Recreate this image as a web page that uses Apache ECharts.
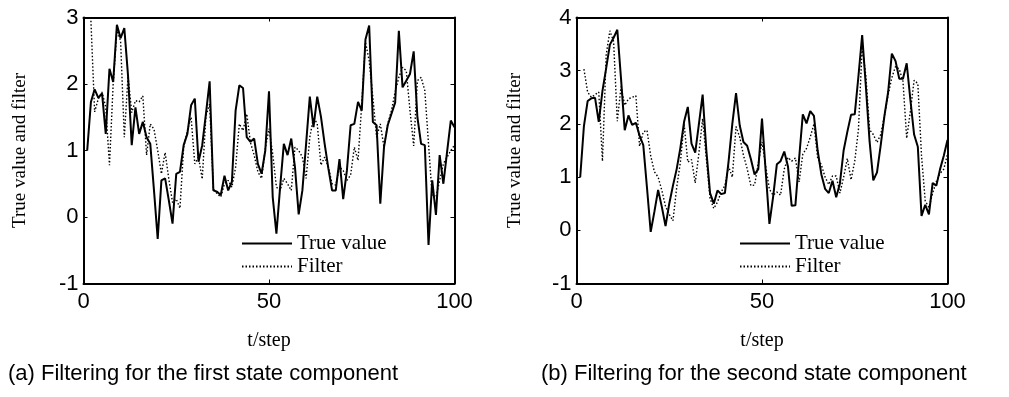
<!DOCTYPE html>
<html>
<head>
<meta charset="utf-8">
<script src="https://cdn.jsdelivr.net/npm/echarts@6/dist/echarts.min.js"></script>
<style>
  html, body { margin: 0; padding: 0; background: #fff; }
  #chart { width: 1009px; height: 397px; }
</style>
</head>
<body>
<div id="chart"></div>
<script>
// true value / filter for the first state component, t = 1..100 (filter starts at t = 2)
const trueA = [
  1.0, 1.73, 1.92, 1.79, 1.86, 1.25, 2.23, 2.03, 2.89, 2.69,
  2.84, 2.13, 1.08, 1.65, 1.25, 1.43, 1.2, 1.1, 0.4, -0.33,
  0.55, 0.58, 0.25, -0.1, 0.65, 0.68, 1.08, 1.25, 1.68, 1.78,
  0.83, 1.08, 1.55, 2.04, 0.4, 0.38, 0.33, 0.62, 0.4, 0.53,
  1.6, 1.98, 1.94, 1.2, 1.13, 1.18, 0.8, 0.65, 1.0, 1.89,
  0.3, -0.25, 0.45, 1.1, 0.93, 1.18, 0.75, 0.04, 0.4, 1.1,
  1.81, 1.35, 1.81, 1.51, 1.1, 0.73, 0.4, 0.4, 0.87, 0.27,
  0.7, 1.38, 1.4, 1.73, 1.6, 2.67, 2.88, 1.43, 1.38, 0.2,
  1.05, 1.38, 1.55, 1.72, 2.8, 1.95, 2.05, 2.15, 2.49, 1.5,
  1.1, 1.08, -0.42, 0.55, 0.03, 0.93, 0.5, 0.98, 1.45, 1.35
];
const filterA = [
  2.95, 1.58, 1.78, 1.88, 1.65, 0.78, 2.0, 2.8, 2.65, 1.2,
  2.12, 1.57, 1.75, 1.73, 1.82, 0.93, 1.4, 1.32, 1.0, 0.65,
  0.97, 0.57, 0.22, 0.27, 0.13, 1.05, 1.3, 1.5, 0.8, 0.9,
  0.57, 1.52, 1.7, 0.43, 0.35, 0.3, 0.5, 0.55, 0.45, 0.75,
  1.4, 1.3, 1.55, 1.12, 0.93, 0.68, 0.58, 1.03, 1.33, 0.95,
  0.45, 0.4, 0.58, 0.5, 0.4, 1.05, 1.0, 0.9, 0.58, 1.2,
  1.5, 1.4, 0.78, 0.9, 0.75, 0.5, 0.48, 0.75, 0.7, 0.55,
  0.63, 1.05, 0.85, 1.7, 2.63, 2.35, 1.8, 1.2, 1.4, 1.05,
  1.4, 1.6, 1.88, 2.1, 2.25, 2.2, 1.6, 1.07, 2.05, 2.1,
  1.9, 1.1, 0.3, 0.3, 0.55, 0.8, 0.9, 1.0, 1.08
];
// second state component
const trueB = [
  1.0, 1.96, 2.43, 2.48, 2.49, 2.04, 2.62, 3.05, 3.49, 3.62,
  3.77, 2.85, 1.88, 2.16, 1.98, 2.02, 1.78, 1.6, 0.8, -0.03,
  0.35, 0.76, 0.44, 0.08, 0.5, 0.84, 1.15, 1.55, 2.04, 2.32,
  1.63, 1.46, 2.0, 2.55, 1.5, 0.7, 0.5, 0.75, 0.68, 0.7,
  1.3, 2.0, 2.58, 1.97, 1.66, 1.59, 1.34, 1.05, 1.15, 2.1,
  1.1, 0.12, 0.63, 1.24, 1.3, 1.48, 1.2, 0.46, 0.47, 1.35,
  2.18, 2.01, 2.24, 2.15, 1.5, 1.05, 0.78, 0.7, 0.93, 0.62,
  0.88, 1.5, 1.85, 2.17, 2.18, 2.9, 3.67, 2.7, 1.67, 0.94,
  1.09, 1.6, 2.15, 2.6, 3.32, 3.18, 2.85, 2.85, 3.14, 2.45,
  1.8, 1.57, 0.27, 0.48, 0.3, 0.89, 0.84, 1.15, 1.4, 1.7
];
const filterB = [
  3.03, 2.6, 2.5, 2.55, 2.6, 1.3, 3.3, 3.75, 3.55, 2.05,
  2.7, 2.35, 2.47, 2.5, 2.53, 1.58, 1.85, 1.88, 1.4, 1.1,
  1.0, 0.75, 0.45, 0.3, 0.18, 0.8, 1.28, 2.0, 1.28, 1.33,
  0.89, 1.45, 2.1, 1.34, 0.6, 0.41, 0.53, 0.72, 0.84, 1.2,
  1.0, 1.95, 1.75, 1.41, 1.16, 0.84, 0.85, 1.26, 1.66, 1.2,
  0.77, 0.66, 0.72, 0.66, 1.15, 1.37, 1.3, 1.36, 0.91, 1.43,
  1.54, 1.75, 2.0, 1.36, 1.23, 1.0, 0.86, 1.02, 1.02, 0.7,
  1.0, 1.35, 0.95, 1.3, 1.9, 3.45, 2.9, 1.89, 1.8, 1.65,
  1.8, 2.15, 2.55, 2.87, 3.08, 3.03, 2.8, 1.73, 2.24, 2.82,
  2.76, 1.4, 0.55, 0.43, 0.7, 0.92, 1.07, 1.15, 1.43
];
const xTicks = [0, 50, 100];
const yRangeA = [-1, 3];
const yRangeB = [-1, 4];
const seriesNames = ['True value', 'Filter'];
const captions = ['(a) Filtering for the first state component', '(b) Filtering for the second state component'];

let chart = echarts.init(document.getElementById('chart'));

// pair step number with value, first step given
function toPairs(vals, firstStep) {
  return vals.map((v, i) => [firstStep + i, v]);
}

const sans = 'Liberation Sans, Arial, sans-serif';
const serif = 'Liberation Serif, Times New Roman, serif';

function xAx(grid, pos) {
  let ax = {
    gridIndex: grid, type: 'value', position: pos,
    min: xTicks[0], max: xTicks[xTicks.length - 1], interval: 50,
    axisLine: { onZero: false, lineStyle: { color: '#000', width: 2 } },
    axisTick: { inside: true, length: 4, lineStyle: { color: '#000', width: 1 } },
    axisLabel: { show: pos === 'bottom', color: '#000', fontSize: 22, fontFamily: sans, margin: 7 },
    splitLine: { show: false }
  };
  if (pos === 'bottom') {
    ax.name = 't/step';
    ax.nameLocation = 'middle';
    ax.nameGap = 47;
    ax.nameTextStyle = { color: '#000', fontSize: 20, fontFamily: serif };
  }
  return ax;
}

function yAx(grid, pos, range, gap) {
  let ax = {
    gridIndex: grid, type: 'value', position: pos,
    min: range[0], max: range[1], interval: 1,
    axisLine: { onZero: false, lineStyle: { color: '#000', width: 2 } },
    axisTick: { inside: true, length: 4, lineStyle: { color: '#000', width: 1 } },
    axisLabel: { show: pos === 'left', color: '#000', fontSize: 22, fontFamily: sans, margin: 5 },
    splitLine: { show: false }
  };
  if (pos === 'left') {
    ax.name = 'True value and filter';
    ax.nameLocation = 'middle';
    ax.nameGap = gap;
    ax.nameTextStyle = { color: '#000', fontSize: 19, fontFamily: serif };
  }
  return ax;
}

function lineSeries(name, data, idx, dotted) {
  return {
    name: name, type: 'line', xAxisIndex: idx, yAxisIndex: idx,
    data: data, symbol: 'none', showSymbol: false, animation: false,
    lineStyle: dotted
      ? { color: '#000', width: 1.4, type: [1.5, 2] }
      : { color: '#000', width: 2 },
    itemStyle: { color: '#000' }
  };
}

// legend: line sample only, no symbol dot
function legendAt(left) {
  return {
    data: seriesNames, orient: 'vertical', left: left, top: 233,
    itemWidth: 50, itemHeight: 12, itemGap: 2, padding: 0,
    selectedMode: false,
    itemStyle: { opacity: 0, borderWidth: 0 },
    textStyle: { color: '#000', fontSize: 21, fontFamily: serif, lineHeight: 21 }
  };
}

let option = {
  backgroundColor: '#fff',
  animation: false,
  grid: [
    { left: 83.5, top: 17.5, width: 371, height: 266 },
    { left: 576.5, top: 17.5, width: 371, height: 266 }
  ],
  xAxis: [xAx(0, 'bottom'), xAx(1, 'bottom'), xAx(0, 'top'), xAx(1, 'top')],
  yAxis: [yAx(0, 'left', yRangeA, 54), yAx(1, 'left', yRangeB, 52),
          yAx(0, 'right', yRangeA), yAx(1, 'right', yRangeB)],
  legend: [legendAt(241), legendAt(739)],
  series: [
    lineSeries(seriesNames[0], toPairs(trueA, 1), 0, false),
    lineSeries(seriesNames[1], toPairs(filterA, 2), 0, true),
    lineSeries(seriesNames[0], toPairs(trueB, 1), 1, false),
    lineSeries(seriesNames[1], toPairs(filterB, 2), 1, true)
  ],
  graphic: [
    { type: 'text', left: 8, top: 363,
      style: { text: captions[0], fill: '#000', font: '22px ' + sans } },
    { type: 'text', left: 541, top: 363,
      style: { text: captions[1], fill: '#000', font: '22px ' + sans } }
  ]
};
chart.setOption(option);
</script>
</body>
</html>
